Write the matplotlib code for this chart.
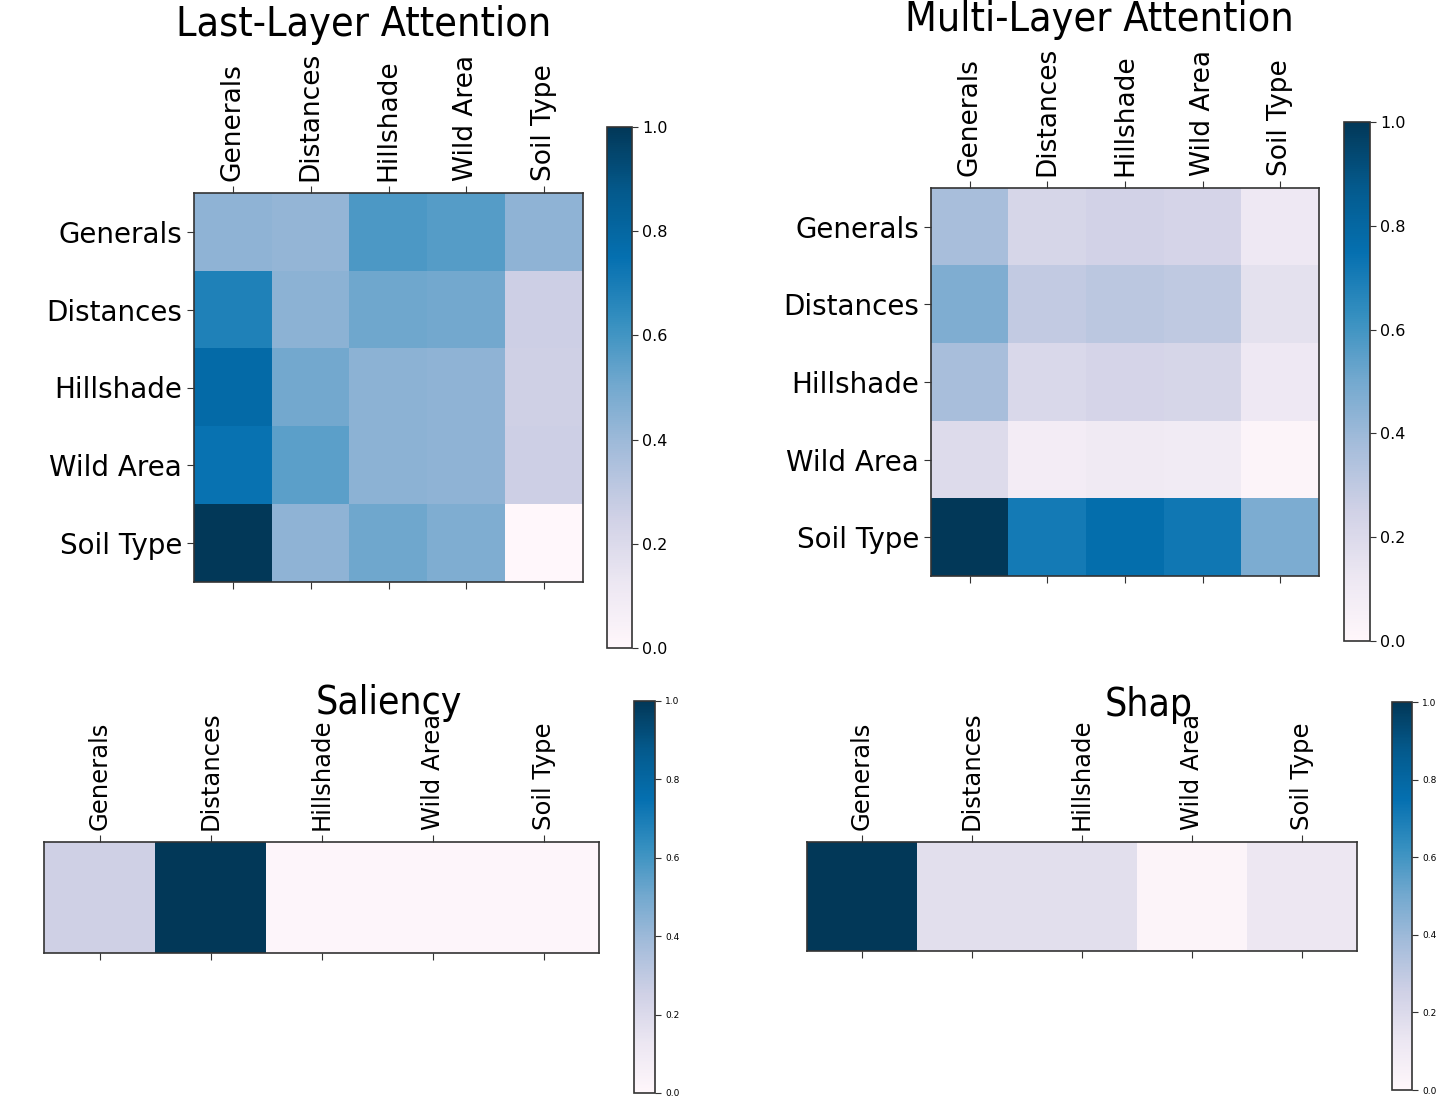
import numpy as np
import matplotlib
matplotlib.use("Agg")
import matplotlib.pyplot as plt

features = ["Generals", "Distances", "Hillshade", "Wild Area", "Soil Type"]

last_layer = [
    [0.43, 0.42, 0.58, 0.56, 0.43],
    [0.68, 0.44, 0.51, 0.50, 0.26],
    [0.78, 0.50, 0.44, 0.43, 0.25],
    [0.74, 0.55, 0.44, 0.43, 0.26],
    [1.00, 0.43, 0.51, 0.47, 0.00],
]
multi_layer = [
    [0.37, 0.22, 0.24, 0.23, 0.11],
    [0.47, 0.29, 0.31, 0.30, 0.16],
    [0.37, 0.21, 0.23, 0.22, 0.11],
    [0.19, 0.08, 0.10, 0.09, 0.02],
    [1.00, 0.71, 0.76, 0.72, 0.48],
]
saliency = [[0.25, 1.00, 0.01, 0.01, 0.01]]
shap = [[1.00, 0.17, 0.17, 0.02, 0.12]]

titles = ["Last-Layer Attention", "Multi-Layer Attention", "Saliency", "Shap"]

W, H = 1444, 1105
fig = plt.figure(figsize=(W / 100, H / 100), dpi=100)


def box(x0, y0, x1, y1):
    return [x0 / W, 1 - y1 / H, (x1 - x0) / W, (y1 - y0) / H]


def panel(data, title, ax_px, cb_px, title_px, title_fs, tick_fs, cb_fs, show_y):
    ax = fig.add_axes(box(*ax_px))
    im = ax.imshow(np.array(data), cmap="PuBu", vmin=0, vmax=1, aspect="auto")
    ax.set_xticks(range(len(features)))
    ax.xaxis.tick_top()
    ax.tick_params(axis="x", which="both", top=True, bottom=True,
                   labeltop=True, labelbottom=False, length=5, color="#333333")
    ax.set_xticklabels(features, rotation=90, fontsize=tick_fs)
    if show_y:
        ax.set_yticks(range(len(features)))
        ax.set_yticklabels(features, fontsize=20)
        ax.tick_params(axis="y", length=5, color="#333333")
    else:
        ax.set_yticks([])
    for s in ax.spines.values():
        s.set_color("#333333")
        s.set_linewidth(1.2)
    cax = fig.add_axes(box(*cb_px))
    cb = fig.colorbar(im, cax=cax, ticks=[0, 0.2, 0.4, 0.6, 0.8, 1.0])
    cb.ax.tick_params(labelsize=cb_fs, length=4, color="#333333")
    cb.outline.set_edgecolor("#333333")
    cb.outline.set_linewidth(1.2)
    fig.text(title_px[0] / W, 1 - title_px[1] / H, title, ha="center",
             va="center", fontsize=title_fs, fontstretch="condensed")
    return ax


panel(last_layer, titles[0], (194, 193, 583, 582), (607, 127, 632, 648),
      (364, 25), 29.5, 19, 11.5, True)
panel(multi_layer, titles[1], (931, 188, 1319, 576), (1344, 122, 1370, 641),
      (1099, 20), 29.5, 19, 11.5, True)
panel(saliency, titles[2], (44, 842, 599, 953), (634, 701, 655, 1093),
      (389, 703), 28, 17.5, 6.5, False)
panel(shap, titles[3], (807, 842, 1357, 951), (1392, 702, 1412, 1090),
      (1149, 705), 28, 17.5, 6.5, False)

fig.savefig("out.png", dpi=100)
